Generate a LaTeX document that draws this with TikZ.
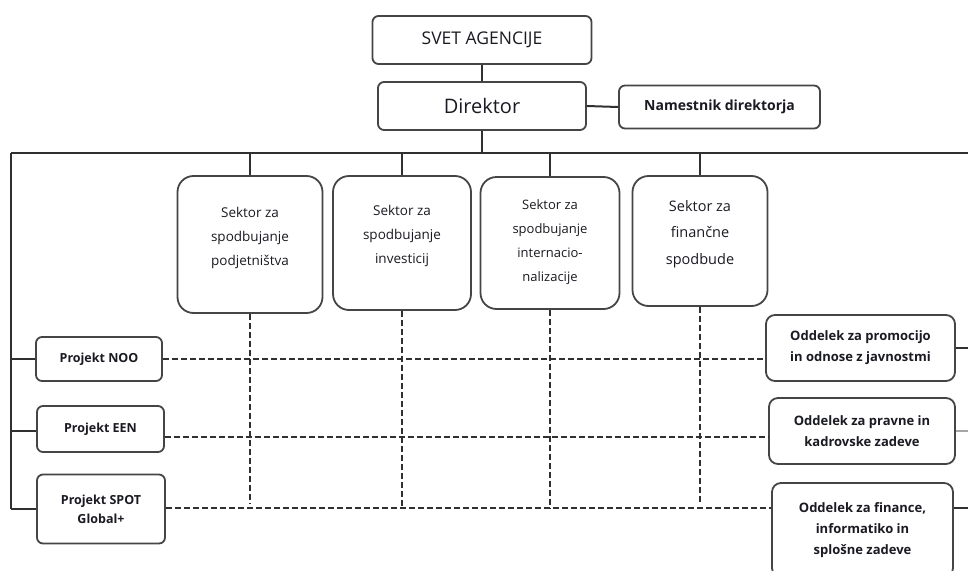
\documentclass[tikz,border=0pt]{standalone}
\usepackage{fontspec}
\setmainfont{Open Sans}
\usetikzlibrary{calc}
\definecolor{ln}{HTML}{303030}
\definecolor{bx}{HTML}{454545}
\definecolor{tx}{HTML}{1A1A22}
\begin{document}
\begin{tikzpicture}[x=1pt,y=-1pt,
  box/.style={draw=bx,line width=1.8pt,rounded corners=6pt,fill=white,text=tx,align=center,inner sep=0pt},
  sektor/.style={box,rounded corners=16pt},
  stext/.style={text=tx,align=center,anchor=north,inner sep=0pt,font=\fontsize{13.5}{24}\selectfont},
  proj/.style={box,font=\fontsize{12.5}{19}\selectfont\bfseries},
  odd/.style={box,rounded corners=9pt,font=\fontsize{13}{21}\selectfont\bfseries},
  conn/.style={draw=ln,line width=2pt},
  dconn/.style={draw=ln,line width=2pt,dash pattern=on 6pt off 3pt}]
\useasboundingbox (0,0) rectangle (968,570);
\begin{scope}
\clip (0,0) rectangle (968,570);
% nodes
\node[box,minimum width=219pt,minimum height=48pt,font=\fontsize{17.5}{18}\selectfont] (svet) at (482,40) {SVET AGENCIJE};
\node[box,minimum width=208pt,minimum height=48pt,font=\fontsize{20}{20}\selectfont] (dir) at (482,106) {Direktor};
\node[box,minimum width=201pt,minimum height=43pt,font=\fontsize{14}{16}\selectfont\bfseries] (nam) at (719.5,107) {Namestnik direktorja};

\node[sektor,minimum width=145pt,minimum height=137pt] (s1) at (250,244.5) {};
\node[sektor,minimum width=138pt,minimum height=134pt] (s2) at (402,243) {};
\node[sektor,minimum width=139pt,minimum height=132pt] (s3) at (550,243) {};
\node[sektor,minimum width=135pt,minimum height=130pt] (s4) at (700,241) {};
\node[stext] (t1) at (250,207) {Sektor za\\spodbujanje\\podjetništva};
\node[stext] (t2) at (402,205) {Sektor za\\spodbujanje\\investicij};
\node[stext,font=\fontsize{13}{24}\selectfont] (t3) at (550,199) {Sektor za\\spodbujanje\\internacio-\\nalizacije};
\node[stext,font=\fontsize{14.5}{26.5}\selectfont] (t4) at (700,200) {Sektor za\\finančne\\spodbude};

\node[proj,minimum width=126pt,minimum height=44pt] (p1) at (99,359) {Projekt NOO};
\node[proj,minimum width=127pt,minimum height=46pt] (p2) at (100.5,429) {Projekt EEN};
\node[proj,minimum width=128pt,minimum height=69pt] (p3) at (101,509) {Projekt SPOT\\Global+};

\node[odd,minimum width=189pt,minimum height=66pt] (d1) at (860.5,348) {Oddelek za promocijo\\in odnose z javnostmi};
\node[odd,minimum width=186pt,minimum height=66pt] (d2) at (862,431) {Oddelek za pravne in\\kadrovske zadeve};
\node[odd,minimum width=181pt,minimum height=94pt] (d3) at (862.5,530) {};
\node[stext,font=\fontsize{13}{21}\selectfont\bfseries] (t5) at (862.5,502) {Oddelek za finance,\\informatiko in\\splošne zadeve};

% coordinates
\coordinate (busL) at (11,153);
\coordinate (busR) at (968,153);
\coordinate (leftEnd) at (11,509);

% solid connectors
\draw[conn] (svet.south) -- (dir.north);
\draw[conn] (dir.east) -- (nam.west);
\draw[conn] (dir.south) -- (dir.south |- busL);
\draw[conn] (busL) -- (busR);
\draw[conn] (busL) -- (leftEnd);
\foreach \s in {s1,s2,s3,s4} \draw[conn] (\s.north |- busL) -- (\s.north);
\draw[conn] (p1.west -| busL) -- (p1.west);
\draw[conn] ($(p2.west -| busL)+(0,2)$) -- ($(p2.west)+(0,2)$);
\draw[conn] (leftEnd) -- (p3.west);
\draw[conn] (d1.east) -- (d1.east -| busR);
\draw[draw=gray!70,line width=1.6pt] (d2.east) -- (d2.east -| busR);
\draw[conn] ($(d3.east)+(0,-22)$) -- ($(d3.east -| busR)+(0,-22)$);

% dashed matrix
\draw[dconn] (p1.east) -- (p1.east -| d1.west);
\draw[dconn] ($(p2.east)+(0,8)$) -- ($(p2.east -| d2.west)+(0,8)$);
\draw[dconn] ($(p3.east)+(0,-1)$) -- ($(p3.east -| d3.west)+(0,-1)$);
\draw[dconn] (s1.south) -- ($(s1.south |- p3.east)+(0,-6)$);
\draw[dconn] (s2.south) -- ($(s2.south |- p3.east)+(0,-1)$);
\draw[dconn] (s3.south) -- ($(s3.south |- p3.east)+(0,-1)$);
\draw[dconn] (s4.south) -- ($(s4.south |- p3.east)+(0,-5)$);
\end{scope}
\end{tikzpicture}
\end{document}
